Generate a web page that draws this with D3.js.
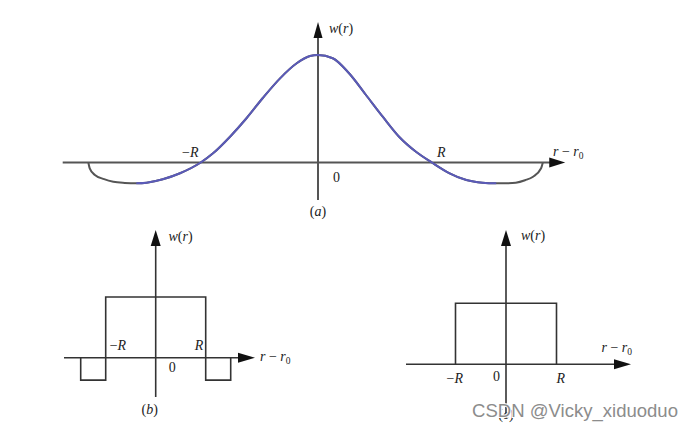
<!DOCTYPE html>
<html><head><meta charset="utf-8">
<script src="https://cdn.jsdelivr.net/npm/d3@7"></script>
<style>body{margin:0;background:#fff}svg{display:block}</style>
</head><body>
<script>
// ---------- data ----------
// (a) smooth window: r in units of R, w normalised to peak
const curveR = [-1.997,-1.985,-1.94,-1.86,-1.78,-1.68,-1.58,-1.49,-1.35,-1.20,-1.02,-0.91,-0.765,-0.62,-0.48,-0.33,-0.185,-0.07,0,0.128,0.27,0.417,0.563,0.705,0.852,0.99,1.14,1.29,1.43,1.55,1.64,1.72,1.80,1.87,1.94,1.955];
const curveW = [0,-0.054,-0.116,-0.155,-0.179,-0.19,-0.194,-0.188,-0.156,-0.10,0,0.088,0.24,0.414,0.60,0.783,0.923,0.99,1,0.97,0.83,0.628,0.426,0.24,0.10,0,-0.098,-0.163,-0.188,-0.194,-0.193,-0.188,-0.165,-0.132,-0.054,0];
const blueRange = [-1.58, 1.55];
// (b) step window with negative side lobes
const stepBR = [-1.5,-1.5,-1,-1,1,1,1.5,1.5];
const stepBW = [0,-0.37,-0.37,1,1,-0.37,-0.37,0];
// (c) rectangular window
const rectCR = [-1,-1,1,1];
const rectCW = [0,1,1,0];
// tick labels
const tickR = [-1, 0, 1];
const tickLabels = ["\u2212R", "0", "R"];
const panelLabels = ["(a)", "(b)", "(c)"];

// ---------- drawing ----------
const W = 692, H = 430;
const svg = d3.select("body").append("svg").attr("width", W).attr("height", H);
const serif = "'Liberation Serif','Times New Roman',serif";

function arrow(x1, y1, x2, y2, color, sw, hl, hw) {
  const dx = x2 - x1, dy = y2 - y1, L = Math.hypot(dx, dy);
  const ux = dx / L, uy = dy / L;
  const bx = x2 - ux * hl, by = y2 - uy * hl;
  svg.append("line").attr("x1", x1).attr("y1", y1).attr("x2", bx + ux).attr("y2", by + uy)
    .attr("stroke", color).attr("stroke-width", sw);
  const px = -uy, py = ux;
  svg.append("path")
    .attr("d", `M${x2},${y2}L${bx + px * hw / 2},${by + py * hw / 2}L${bx - px * hw / 2},${by - py * hw / 2}Z`)
    .attr("fill", "#111");
}
function label(x, y, parts, size) {
  const t = svg.append("text").attr("x", x).attr("y", y)
    .attr("font-family", serif).attr("font-size", size).attr("fill", "#222");
  parts.forEach(p => {
    const s = t.append("tspan").text(p.t);
    if (p.i) s.attr("font-style", "italic");
    if (p.sub) s.attr("font-size", size * 0.68).attr("dy", 3);
  });
  return t;
}
const wr = [{t:"w",i:1},{t:"("},{t:"r",i:1},{t:")"}];
const rr0 = [{t:"r",i:1},{t:" \u2212 "},{t:"r",i:1},{t:"0",sub:1}];
function tick(x, y, s, size) {
  if (s === "0") return label(x, y, [{t:"0"}], size);
  if (s.startsWith("\u2212")) return label(x, y, [{t:"\u2212"},{t:"R",i:1}], size);
  return label(x, y, [{t:"R",i:1}], size);
}
function panel(x, y, s) {
  return label(x, y, [{t:"("},{t:s.slice(1, -1),i:1},{t:")"}], 14).attr("text-anchor", "middle");
}

// ----- panel (a) -----
const xa = d3.scaleLinear().domain([-1, 1]).range([318 - 115, 318 + 115]);
const ya = d3.scaleLinear().domain([0, 1]).range([162.5, 55]);
arrow(xa(-2.22), ya(0), xa(2.15), ya(0), "#555", 2, 16, 10);
arrow(xa(0), 200, xa(0), 22, "#555", 2, 16, 9);
const pts = curveR.map((r, i) => [r, curveW[i]]);
const lineA = d3.line().x(d => xa(d[0])).y(d => ya(d[1])).curve(d3.curveMonotoneX);
svg.append("path").attr("d", lineA(pts)).attr("fill", "none").attr("stroke", "#555").attr("stroke-width", 2);
svg.append("path").attr("d", lineA(pts.filter(d => d[0] >= blueRange[0] && d[0] <= blueRange[1])))
  .attr("fill", "none").attr("stroke", "#5a5ab8").attr("stroke-width", 2);
tick(xa(tickR[0]) - 21, 157, tickLabels[0], 14);
tick(xa(tickR[1]) + 15, 182, tickLabels[1], 14);
tick(xa(tickR[2]) + 4, 157, tickLabels[2], 14);
label(553, 156, rr0, 14);
label(329, 33, wr, 14);
panel(xa(0), 216, panelLabels[0]);

// ----- panel (b) -----
const xb = d3.scaleLinear().domain([-1, 1]).range([155.7 - 50, 155.7 + 50]);
const yb = d3.scaleLinear().domain([0, 1]).range([357.7, 297]);
arrow(64, yb(0), 255, yb(0), "#333", 1.6, 17, 10);
arrow(xb(0), 397, xb(0), 230, "#333", 1.6, 16, 10);
svg.append("path").attr("d", d3.line().x((d, i) => xb(stepBR[i])).y((d, i) => yb(stepBW[i]))(stepBR))
  .attr("fill", "none").attr("stroke", "#333").attr("stroke-width", 1.6);
tick(xb(tickR[0]) + 4, 350, tickLabels[0], 14);
tick(xb(tickR[1]) + 13, 372, tickLabels[1], 14);
tick(xb(tickR[2]) - 11, 350, tickLabels[2], 14);
label(260, 361, rr0, 14);
label(168.5, 241, wr, 14);
panel(xb(0) - 6, 414, panelLabels[1]);

// ----- panel (c) -----
const xc = d3.scaleLinear().domain([-1, 1]).range([455.5, 556.5]);
const yc = d3.scaleLinear().domain([0, 1]).range([364.3, 303.3]);
arrow(406, yc(0), 631, yc(0), "#333", 1.6, 17, 10);
arrow(xc(0), 418, xc(0), 230, "#333", 1.6, 16, 10);
svg.append("path").attr("d", d3.line().x((d, i) => xc(rectCR[i])).y((d, i) => yc(rectCW[i]))(rectCR))
  .attr("fill", "none").attr("stroke", "#333").attr("stroke-width", 1.6);
tick(xc(tickR[0]) - 9, 383, tickLabels[0], 14);
tick(xc(tickR[1]) - 13, 381, tickLabels[1], 14);
tick(xc(tickR[2]) + 0, 383, tickLabels[2], 14);
label(601.5, 352, rr0, 14);
label(521, 240, wr, 14);
panel(xc(0), 419, panelLabels[2]);

// watermark (overlaps the (c) label, as in the original)
svg.append("text").attr("x", 472).attr("y", 417)
  .attr("font-family", "'Liberation Sans',Arial,sans-serif").attr("font-size", 17.5)
  .attr("textLength", 206).attr("lengthAdjust", "spacingAndGlyphs")
  .attr("fill", "#8c8c8c").attr("stroke", "#fff").attr("stroke-width", 2)
  .attr("paint-order", "stroke")
  .text("CSDN @Vicky_xiduoduo");
</script>
</body></html>
